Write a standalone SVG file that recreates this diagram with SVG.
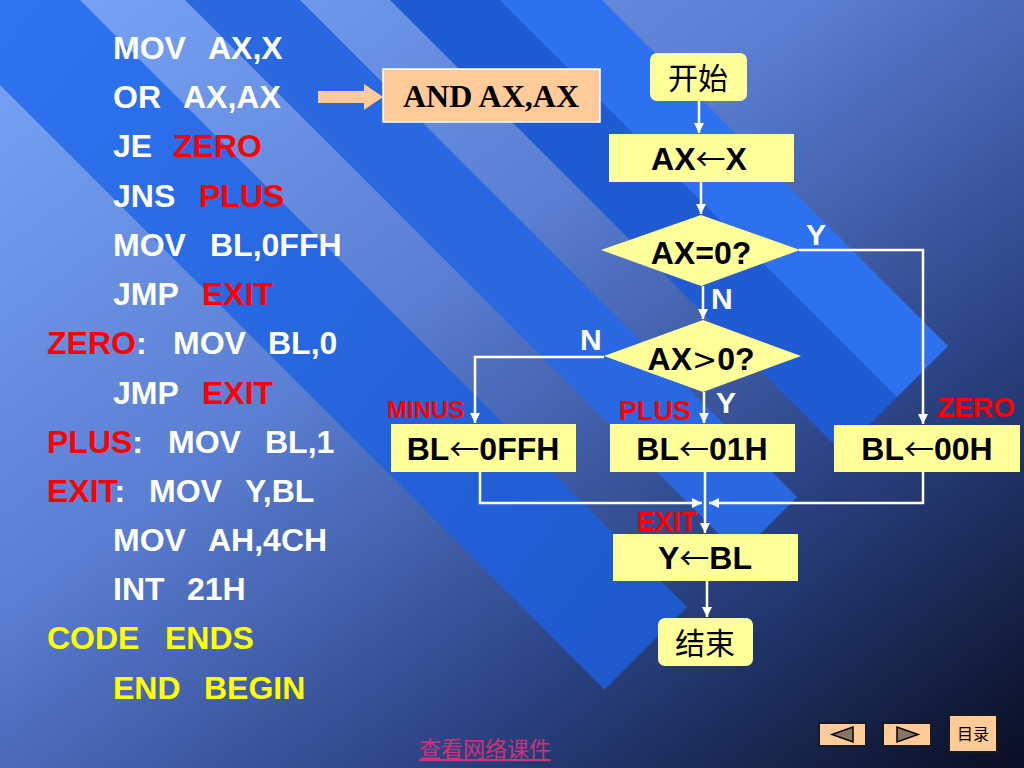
<svg xmlns="http://www.w3.org/2000/svg" width="1024" height="768" viewBox="0 0 1024 768">
<defs>
<linearGradient id="bg" x1="0" y1="0" x2="1" y2="1">
<stop offset="0" stop-color="#7aa6f8"/>
<stop offset="0.4" stop-color="#5a7ed2"/>
<stop offset="0.7" stop-color="#2c4486"/>
<stop offset="1" stop-color="#080e22"/>
</linearGradient>
<linearGradient id="band" gradientUnits="userSpaceOnUse" x1="0" y1="0" x2="900" y2="700">
<stop offset="0" stop-color="#2f74f2"/>
<stop offset="1" stop-color="#1a52c4"/>
</linearGradient>
<marker id="ah" viewBox="0 0 10 10" refX="10" refY="5" markerWidth="4" markerHeight="4" orient="auto" markerUnits="strokeWidth">
<path d="M0,0 L10,5 L0,10 z" fill="#ffffff"/>
</marker>
<style>
.code{font-family:"Liberation Sans",Arial,sans-serif;font-weight:bold;font-size:32px;fill:#ffffff}
.red{fill:#ff0000}
.yel{fill:#ffff00}
.node{fill:#ffff99}
.nt{font-family:"Liberation Sans",Arial,sans-serif;font-weight:bold;font-size:32px;fill:#000000;text-anchor:middle}
.ar{font-family:"Noto Sans CJK SC","DejaVu Sans",sans-serif;font-weight:normal;font-size:30px}
.thin{font-family:"DejaVu Sans",sans-serif;font-weight:normal;font-size:30px}
.cj{font-family:"Noto Sans CJK SC",sans-serif;font-size:30px;fill:#000000;text-anchor:middle}
.lbl{font-family:"Liberation Sans",Arial,sans-serif;font-weight:bold;font-size:30px;fill:#ffffff}
.rl{font-family:"Liberation Sans",Arial,sans-serif;font-weight:bold;fill:#ff0000}
.conn{fill:none;stroke:#ffffff;stroke-width:2.5}
.btn{fill:#ffcc99;stroke:#1a1a1a;stroke-width:2}
.tri{fill:#8a7560;stroke:#000000;stroke-width:1.5}
</style>
</defs>
<rect x="0" y="0" width="1024" height="768" fill="url(#bg)"/>
<g id="bands" fill="url(#band)">
<polygon points="-192.5,-107.5 -110,-190 687,607 604.5,689.5"/>
<polygon points="-57.5,-242.5 0,-300 797,497 739.5,554.5" fill="#2a68e2"/>
<polygon points="45,-345 100,-400 897,397 842,452" fill="#1f5bd2"/>
<polygon points="100,-400 151,-451 948,346 897,397" fill="#2d70f0"/>
</g>
<g id="code">
<text class="code" y="59"><tspan x="113">MOV</tspan><tspan x="208">AX,X</tspan></text>
<text class="code" y="108"><tspan x="113">OR</tspan><tspan x="183">AX,AX</tspan></text>
<text class="code" y="157"><tspan x="113">JE</tspan><tspan x="173" class="red">ZERO</tspan></text>
<text class="code" y="207"><tspan x="113">JNS</tspan><tspan x="199" class="red">PLUS</tspan></text>
<text class="code" y="256"><tspan x="113">MOV</tspan><tspan x="210">BL,0FFH</tspan></text>
<text class="code" y="305"><tspan x="113">JMP</tspan><tspan x="202" class="red">EXIT</tspan></text>
<text class="code" y="354"><tspan x="47" class="red">ZERO</tspan><tspan>:</tspan><tspan x="173">MOV</tspan><tspan x="268">BL,0</tspan></text>
<text class="code" y="404"><tspan x="113">JMP</tspan><tspan x="202" class="red">EXIT</tspan></text>
<text class="code" y="453"><tspan x="47" class="red">PLUS</tspan><tspan>:</tspan><tspan x="168">MOV</tspan><tspan x="265">BL,1</tspan></text>
<text class="code" y="502"><tspan x="47" class="red">EXIT</tspan><tspan>:</tspan><tspan x="149">MOV</tspan><tspan x="245">Y,BL</tspan></text>
<text class="code" y="551"><tspan x="113">MOV</tspan><tspan x="208">AH,4CH</tspan></text>
<text class="code" y="600"><tspan x="113">INT</tspan><tspan x="187">21H</tspan></text>
<text class="code yel" y="649"><tspan x="47">CODE</tspan><tspan x="165">ENDS</tspan></text>
<text class="code yel" y="699"><tspan x="113">END</tspan><tspan x="204">BEGIN</tspan></text>
</g>
<g id="note">
<polygon points="318,91 364,91 364,84 383,97 364,110 364,103 318,103" fill="#ffcc99"/>
<rect x="383" y="69" width="217" height="53" fill="#ffcc99" stroke="#ffffff" stroke-width="1.5"/>
<text x="491" y="107" font-family="'Liberation Serif','Times New Roman',serif" font-weight="bold" font-size="32" text-anchor="middle" fill="#000000">AND AX,AX</text>
</g>
<g id="connectors">
<line class="conn" x1="699" y1="101" x2="699" y2="133" marker-end="url(#ah)"/>
<line class="conn" x1="701" y1="182" x2="701" y2="214" marker-end="url(#ah)"/>
<line class="conn" x1="703" y1="286" x2="703" y2="319" marker-end="url(#ah)"/>
<polyline class="conn" points="799,250 923,250 923,424" marker-end="url(#ah)"/>
<polyline class="conn" points="604,357 475,357 475,423" marker-end="url(#ah)"/>
<line class="conn" x1="704" y1="392" x2="704" y2="423" marker-end="url(#ah)"/>
<polyline class="conn" points="480,472 480,503 702,503" marker-end="url(#ah)"/>
<polyline class="conn" points="923,472 923,503 709,503" marker-end="url(#ah)"/>
<line class="conn" x1="705" y1="472" x2="705" y2="533" marker-end="url(#ah)"/>
<line class="conn" x1="707" y1="581" x2="707" y2="617" marker-end="url(#ah)"/>
</g>
<g id="start">
<rect class="node" x="650" y="53" width="97" height="48" rx="7"/>
<text class="cj" x="698" y="89">开始</text>
</g>
<g id="ax-x">
<rect class="node" x="609" y="134" width="185" height="48"/>
<text class="nt" x="699" y="170">AX<tspan class="ar">←</tspan>X</text>
</g>
<g id="ax-eq0">
<polygon class="node" points="701,215 800,250 701,286 601,250"/>
<text class="nt" x="701" y="264">AX=0?</text>
</g>
<g id="ax-gt0">
<polygon class="node" points="703,320 801,356 703,392 604,356"/>
<text class="nt" x="701" y="370">AX<tspan class="thin">&gt;</tspan>0?</text>
</g>
<g id="minus">
<rect class="node" x="391" y="424" width="185" height="48"/>
<text class="nt" x="483" y="460">BL<tspan class="ar">←</tspan>0FFH</text>
</g>
<g id="plus">
<rect class="node" x="610" y="424" width="185" height="48"/>
<text class="nt" x="702" y="460">BL<tspan class="ar">←</tspan>01H</text>
</g>
<g id="zero">
<rect class="node" x="834" y="425" width="186" height="47"/>
<text class="nt" x="927" y="460">BL<tspan class="ar">←</tspan>00H</text>
</g>
<g id="exit">
<rect class="node" x="613" y="534" width="185" height="47"/>
<text class="nt" x="705" y="569">Y<tspan class="ar">←</tspan>BL</text>
</g>
<g id="end">
<rect class="node" x="658" y="618" width="95" height="48" rx="7"/>
<text class="cj" x="705" y="654">结束</text>
</g>
<g id="labels">
<text class="lbl" x="806" y="245">Y</text>
<text class="lbl" x="711" y="309">N</text>
<text class="lbl" x="580" y="350">N</text>
<text class="lbl" x="716" y="413">Y</text>
<text class="rl" x="387" y="418" font-size="24">MINUS</text>
<text class="rl" x="619" y="420" font-size="27">PLUS</text>
<text class="rl" x="937" y="417" font-size="28">ZERO</text>
<text class="rl" x="637" y="531" font-size="27">EXIT</text>
</g>
<g id="nav">
<rect class="btn" x="819" y="723" width="47" height="23"/>
<polygon class="tri" points="832,734.5 853,727 853,742"/>
<rect class="btn" x="883" y="723" width="48" height="23"/>
<polygon class="tri" points="918,734.5 897,727 897,742"/>
<rect class="btn" x="949" y="715" width="48" height="37"/>
<text x="973" y="740" font-family="'Noto Sans CJK SC',sans-serif" font-size="16" text-anchor="middle" fill="#000000">目录</text>
</g>
<text x="485" y="757" font-family="'Noto Sans CJK SC',serif" font-size="22" text-anchor="middle" fill="#cc3377" text-decoration="underline">查看网络课件</text>
</svg>
